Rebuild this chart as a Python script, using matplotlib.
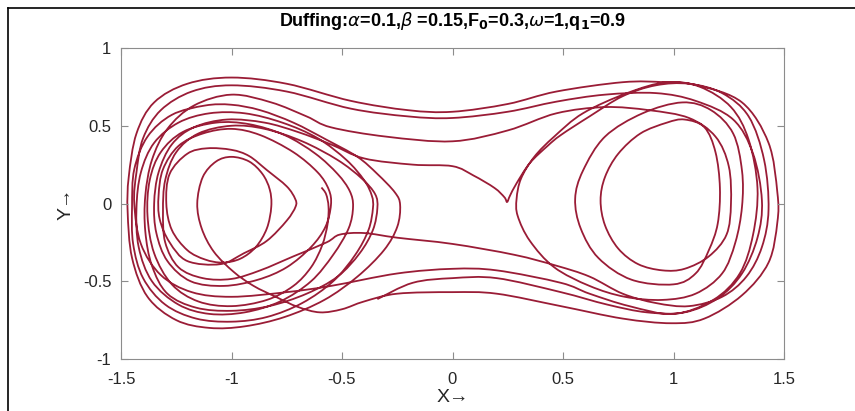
import numpy as np
import matplotlib
matplotlib.use("Agg")
import matplotlib.pyplot as plt
from matplotlib.path import Path
from matplotlib.patches import PathPatch
from matplotlib.lines import Line2D

# ---- Trajectory, split in time-ordered pieces (X, Y) ----
left_start = [
    (-0.593, 0.103), (-0.572, 0.06), (-0.561, -0.02), (-0.565, -0.13), (-0.59, -0.27),
    (-0.64, -0.41), (-0.72, -0.53), (-0.84, -0.62), (-1.0, -0.66), (-1.15, -0.63),
    (-1.27, -0.52), (-1.35, -0.32), (-1.38, -0.08), (-1.37, 0.15), (-1.32, 0.33),
    (-1.22, 0.46), (-1.07, 0.52), (-0.92, 0.51), (-0.76, 0.44), (-0.62, 0.32),
    (-0.52, 0.19), (-0.465, 0.08), (-0.45, -0.02), (-0.47, -0.16), (-0.54, -0.33),
    (-0.64, -0.50), (-0.78, -0.63), (-0.94, -0.70), (-1.10, -0.71), (-1.24, -0.65),
    (-1.36, -0.50), (-1.42, -0.28), (-1.43, -0.03), (-1.41, 0.20), (-1.35, 0.39),
    (-1.24, 0.52), (-1.10, 0.58), (-0.94, 0.58), (-0.77, 0.52), (-0.61, 0.42),
    (-0.48, 0.28), (-0.40, 0.15), (-0.365, 0.05), (-0.36, -0.03), (-0.38, -0.17),
    (-0.44, -0.33), (-0.54, -0.50), (-0.68, -0.64), (-0.84, -0.73), (-1.0, -0.76),
    (-1.16, -0.74), (-1.30, -0.65), (-1.40, -0.48), (-1.445, -0.26), (-1.45, -0.02),
    (-1.44, 0.22), (-1.38, 0.43), (-1.27, 0.57), (-1.12, 0.63), (-1.0, 0.635),
    (-0.87, 0.60), (-0.72, 0.52), (-0.57, 0.41), (-0.43, 0.30), (-0.34, 0.19),
    (-0.26, 0.07), (-0.237, -0.01), (-0.25, -0.15), (-0.31, -0.30), (-0.43, -0.47),
    (-0.58, -0.62), (-0.76, -0.73), (-0.94, -0.79), (-1.10, -0.80), (-1.25, -0.75),
    (-1.38, -0.60), (-1.45, -0.35), (-1.47, -0.05), (-1.465, 0.17), (-1.43, 0.45),
    (-1.35, 0.65), (-1.20, 0.77), (-1.0, 0.81), (-0.75, 0.77), (-0.46, 0.66),
    (-0.2, 0.60), (0.0, 0.59),
]
right_pass_1 = [
    (0.0, 0.59), (0.25, 0.64), (0.47, 0.72), (0.77, 0.78), (0.96, 0.78),
    (1.11, 0.76), (1.31, 0.65), (1.43, 0.39), (1.47, 0.07), (1.47, -0.12),
    (1.43, -0.38), (1.31, -0.59), (1.14, -0.74), (0.99, -0.77), (0.77, -0.74),
    (0.49, -0.66), (0.20, -0.58), (0.0, -0.57),
]
left_inner = [
    (0.0, -0.57), (-0.25, -0.58), (-0.40, -0.63), (-0.50, -0.68), (-0.60, -0.70),
    (-0.70, -0.665), (-0.80, -0.60), (-0.90, -0.53), (-0.99, -0.44), (-1.08, -0.31),
    (-1.135, -0.16), (-1.155, 0.0), (-1.13, 0.17), (-1.07, 0.27), (-1.0, 0.30),
    (-0.92, 0.27), (-0.86, 0.19), (-0.827, 0.09), (-0.82, -0.02), (-0.84, -0.16),
    (-0.89, -0.28), (-0.96, -0.355), (-1.04, -0.38), (-1.12, -0.36), (-1.20, -0.30),
    (-1.27, -0.17), (-1.295, 0.0), (-1.28, 0.19), (-1.20, 0.32), (-1.11, 0.355),
    (-1.0, 0.345), (-0.92, 0.305), (-0.84, 0.215), (-0.75, 0.11), (-0.712, 0.03),
    (-0.71, -0.02), (-0.75, -0.11), (-0.84, -0.24), (-0.944, -0.32), (-1.05, -0.39),
    (-1.20, -0.37), (-1.28, -0.25), (-1.325, -0.1), (-1.33, 0.05), (-1.31, 0.22),
    (-1.24, 0.37), (-1.13, 0.45), (-1.0, 0.48), (-0.87, 0.44), (-0.72, 0.33),
    (-0.61, 0.20), (-0.56, 0.09), (-0.55, -0.01), (-0.575, -0.15), (-0.64, -0.28),
    (-0.75, -0.41), (-0.88, -0.49), (-1.035, -0.53), (-1.185, -0.50), (-1.29, -0.37),
    (-1.34, -0.19), (-1.35, 0.0), (-1.33, 0.2), (-1.27, 0.38), (-1.17, 0.49),
    (-1.02, 0.54), (-0.85, 0.52), (-0.70, 0.46), (-0.55, 0.38), (-0.40, 0.29),
    (-0.18, 0.25), (0.0, 0.24),
]
cusp_pass = [
    (0.0, 0.24), (0.095, 0.18), (0.19, 0.10), (0.235, 0.04), (0.247, 0.01),
    (0.26, 0.05), (0.29, 0.13), (0.35, 0.26), (0.43, 0.37), (0.49, 0.44),
    (0.62, 0.56), (0.77, 0.69), (0.92, 0.76), (1.07, 0.77), (1.22, 0.71),
    (1.34, 0.56), (1.41, 0.28), (1.43, -0.04), (1.40, -0.28), (1.33, -0.47),
    (1.22, -0.60), (1.07, -0.66), (0.92, -0.64), (0.77, -0.58), (0.62, -0.47),
    (0.47, -0.40), (0.28, -0.33), (0.0, -0.26),
]
left_hump = [
    (0.0, -0.26), (-0.25, -0.22), (-0.40, -0.19), (-0.51, -0.20), (-0.57, -0.25),
    (-0.72, -0.34), (-0.87, -0.43), (-1.0, -0.485), (-1.13, -0.48), (-1.24, -0.41),
    (-1.30, -0.25), (-1.31, -0.05), (-1.30, 0.15), (-1.25, 0.33), (-1.15, 0.45),
    (-1.0, 0.50), (-0.85, 0.48), (-0.68, 0.40), (-0.52, 0.28), (-0.41, 0.16),
    (-0.35, 0.06), (-0.34, -0.03), (-0.36, -0.17), (-0.42, -0.32), (-0.52, -0.47),
    (-0.66, -0.58), (-0.83, -0.66), (-1.0, -0.69), (-1.16, -0.67), (-1.29, -0.58),
    (-1.36, -0.40), (-1.39, -0.18), (-1.39, 0.05), (-1.36, 0.28), (-1.29, 0.48),
    (-1.17, 0.63), (-1.0, 0.70), (-0.82, 0.65), (-0.66, 0.56), (-0.55, 0.49),
    (-0.3, 0.43), (0.0, 0.40),
]
right_loops = [
    (0.0, 0.40), (0.25, 0.47), (0.47, 0.58), (0.69, 0.62), (0.89, 0.60),
    (1.07, 0.55), (1.19, 0.43), (1.25, 0.24), (1.26, 0.0), (1.24, -0.2),
    (1.16, -0.34), (1.05, -0.42), (0.95, -0.43), (0.84, -0.39), (0.75, -0.29),
    (0.69, -0.14), (0.67, 0.02), (0.69, 0.17), (0.75, 0.32), (0.85, 0.45),
    (0.97, 0.52), (1.05, 0.54), (1.14, 0.49), (1.19, 0.33), (1.21, 0.1),
    (1.20, -0.13), (1.16, -0.30), (1.10, -0.45), (1.0, -0.52), (0.81, -0.49),
    (0.66, -0.35), (0.58, -0.16), (0.555, 0.03), (0.59, 0.21), (0.69, 0.43),
    (0.86, 0.58), (1.04, 0.65), (1.17, 0.60), (1.27, 0.45), (1.31, 0.21),
    (1.31, -0.02), (1.28, -0.25), (1.22, -0.45), (1.10, -0.58), (0.95, -0.62),
    (0.78, -0.60), (0.62, -0.53), (0.46, -0.41), (0.35, -0.24), (0.295, -0.08),
    (0.29, 0.03), (0.31, 0.16), (0.37, 0.30), (0.46, 0.43), (0.59, 0.58),
    (0.79, 0.71), (0.97, 0.78), (1.12, 0.75), (1.26, 0.62), (1.34, 0.41),
    (1.38, 0.1), (1.36, -0.2), (1.30, -0.45), (1.18, -0.62), (1.0, -0.71),
    (0.80, -0.66), (0.62, -0.58), (0.49, -0.51), (0.20, -0.43), (0.0, -0.42),
]
left_last = [
    (0.0, -0.42), (-0.25, -0.45), (-0.55, -0.53), (-0.75, -0.57), (-1.0, -0.60),
    (-1.18, -0.57), (-1.32, -0.46), (-1.41, -0.26), (-1.44, 0.0), (-1.43, 0.2),
    (-1.40, 0.42), (-1.32, 0.60), (-1.18, 0.72), (-1.0, 0.76), (-0.75, 0.72),
    (-0.46, 0.61), (-0.2, 0.56), (0.0, 0.55),
]
right_last = [
    (0.0, 0.55), (0.25, 0.59), (0.47, 0.655), (0.69, 0.70), (0.92, 0.71),
    (1.10, 0.66), (1.27, 0.54), (1.36, 0.32), (1.40, 0.02), (1.38, -0.22),
    (1.31, -0.45), (1.20, -0.61), (1.05, -0.70), (0.88, -0.70), (0.70, -0.65),
    (0.49, -0.57), (0.20, -0.48), (0.0, -0.48), (-0.18, -0.51), (-0.34, -0.615),
]

x_ticks = [-1.5, -1, -0.5, 0, 0.5, 1, 1.5]
y_ticks = [-1, -0.5, 0, 0.5, 1]


def smooth_path(points):
    """Catmull-Rom curve through the traced points, as cubic Bezier pieces."""
    p = np.asarray(points, dtype=float)
    ext = np.vstack([p[0], p, p[-1]])
    verts = [p[0]]
    codes = [Path.MOVETO]
    for i in range(1, len(ext) - 2):
        p0, p1, p2, p3 = ext[i - 1], ext[i], ext[i + 1], ext[i + 2]
        verts += [p1 + (p2 - p0) / 6, p2 - (p3 - p1) / 6, p2]
        codes += [Path.CURVE4] * 3
    return Path(verts, codes)


plt.rcParams["font.family"] = ["Liberation Sans", "DejaVu Sans"]
plt.rcParams["mathtext.fontset"] = "dejavusans"

fig = plt.figure(figsize=(8.55, 4.11), dpi=100)
ax = fig.add_axes([121 / 855, 1 - 359 / 411, 663 / 855, 311 / 411])

line_color = "#9a1c36"
trajectory = (left_start + right_pass_1[1:] + left_inner[1:] + cusp_pass[1:]
              + left_hump[1:] + right_loops[1:] + left_last[1:] + right_last[1:])
ax.add_patch(PathPatch(smooth_path(trajectory), facecolor="none",
                       edgecolor=line_color, lw=1.3))

ax.set_xlim(-1.5, 1.5)
ax.set_ylim(-1, 1)
ax.set_xticks(x_ticks)
ax.set_yticks(y_ticks)
ax.set_xticklabels([f"{v:g}" for v in x_ticks])
ax.set_yticklabels([f"{v:g}" for v in y_ticks])
ax.tick_params(direction="in", top=True, right=True, length=5, width=0.8,
               color="#8c8c8c", labelsize=12, labelcolor="#262626")
ax.tick_params(axis="x", pad=9)
ax.tick_params(axis="y", pad=7)
for s in ax.spines.values():
    s.set_color("#8c8c8c")
    s.set_linewidth(0.8)

ax.set_xlabel("X\u2192", fontsize=14, color="#262626", labelpad=2)
ax.set_ylabel("Y\u2192", fontsize=14, color="#262626", labelpad=6)
ax.set_title(r"Duffing:$\alpha$=0.1,$\beta$ =0.15,F$_\mathbf{0}$=0.3,$\omega$=1,q$_\mathbf{1}$=0.9",
             fontsize=13, fontweight="bold", color="black", pad=16)

# screenshot frame on the left and top
fig.add_artist(Line2D([8 / 855, 8 / 855], [0, 1 - 8 / 411], color="black", lw=1.2))
fig.add_artist(Line2D([8 / 855, 1], [1 - 8 / 411, 1 - 8 / 411], color="black", lw=1.2))

fig.savefig("out.png", dpi=100)
